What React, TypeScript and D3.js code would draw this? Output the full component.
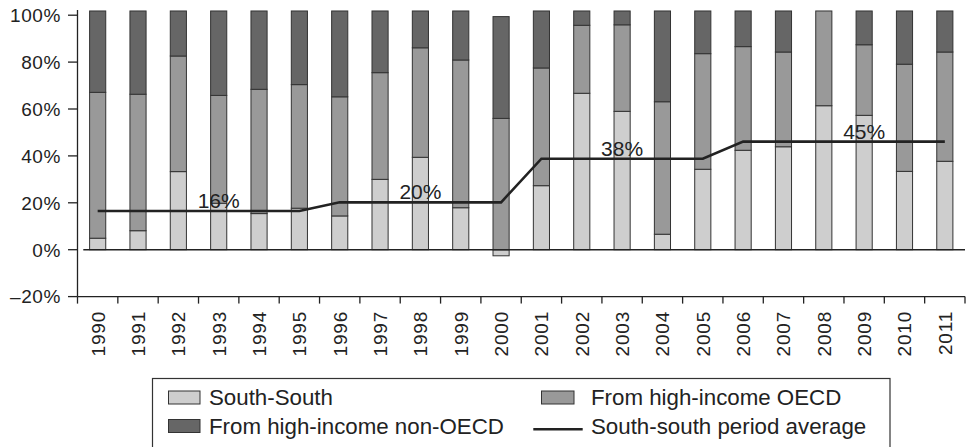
import React from "react";
import * as d3 from "d3";

const years = ["1990","1991","1992","1993","1994","1995","1996","1997","1998","1999","2000","2001","2002","2003","2004","2005","2006","2007","2008","2009","2010","2011"];
const southSouth = [4.9,8.1,33.3,19.8,15.4,17.7,14.4,30.0,39.4,17.9,-2.6,27.3,66.7,59.0,6.6,34.3,42.4,43.9,61.4,57.3,33.4,37.7];
const highIncomeOECD = [62.2,58.2,49.3,46.0,53.0,52.7,50.8,45.5,46.7,63.0,56.0,50.2,29.0,36.9,56.5,49.3,44.2,40.4,40.4,30.1,45.7,46.6];
const highIncomeNonOECD = [34.7,35.5,19.2,36.0,33.4,31.4,36.6,26.3,15.7,20.9,43.4,24.3,6.1,5.9,38.7,18.2,15.2,17.5,0,14.4,22.7,17.5];
const periodAverage = [16.5,16.5,16.5,16.5,16.5,16.5,20.2,20.2,20.2,20.2,20.2,38.8,38.8,38.8,38.8,38.8,46.1,46.1,46.1,46.1,46.1,46.1];
const averageLabels = [{ year: "1993", text: "16%" },{ year: "1998", text: "20%" },{ year: "2003", text: "38%" },{ year: "2009", text: "45%" }];
const yTicks = [-20,0,20,40,60,80,100];
const seriesNames = ["South-South","From high-income OECD","From high-income non-OECD"];
const avgName = "South-south period average";

const W = 967, H = 447;
const colors = ["#cecece", "#999999", "#666666"];
const FONT = "'Liberation Sans', Arial, Helvetica, sans-serif";

export default function App() {
  const x = d3.scaleBand<string>().domain(years).range([77.5, 965]).paddingInner(0.6).paddingOuter(0.3);
  const y = d3.scaleLinear().domain([0, 100]).range([249.7, 15.2]);

  const rows = years.map((yr, i) => ({ year: yr, s0: southSouth[i], s1: highIncomeOECD[i], s2: highIncomeNonOECD[i] }));
  const stack = d3.stack<any>().keys(["s0","s1","s2"]).offset(d3.stackOffsetDiverging);
  const layers = stack(rows);

  const center = (yr: string) => (x(yr) as number) + x.bandwidth() / 2;
  const line = d3.line<number>().x((_, i) => center(years[i])).y((d) => y(d));

  const axisBottomY = y(-20);
  const legendX = 152.5, legendY = 378.5;

  return (
    <svg width={W} height={H} style={{ position: "absolute", left: 0, top: 0, background: "#fff" }} fontFamily={FONT}>
      {/* y axis */}
      <line x1={77.5} x2={77.5} y1={10} y2={axisBottomY} stroke="#222" strokeWidth={1.3} />
      {yTicks.map((t) => (
        <g key={t}>
          <line x1={68} x2={77.5} y1={y(t)} y2={y(t)} stroke="#222" strokeWidth={1.3} />
          <text x={61} y={y(t)} dy="0.36em" textAnchor="end" fontSize={19} fill="#222" letterSpacing={0.6}>
            {t < 0 ? "\u2013" + Math.abs(t) + "%" : t + "%"}
          </text>
        </g>
      ))}
      {/* x axis */}
      <line x1={77.5} x2={965} y1={axisBottomY} y2={axisBottomY} stroke="#222" strokeWidth={1.3} />
      {years.map((yr, i) => {
        const tx = 77.5 + (i + 1) * x.step();
        return <line key={"t" + yr} x1={tx} x2={tx} y1={axisBottomY} y2={axisBottomY + 7} stroke="#222" strokeWidth={1.3} />;
      })}
      <line x1={77.5} x2={77.5} y1={axisBottomY} y2={axisBottomY + 7} stroke="#222" strokeWidth={1.3} />
      {years.map((yr) => (
        <text key={"l" + yr} transform={`translate(${center(yr)},${311}) rotate(-90)`} textAnchor="end" dy="0.36em" fontSize={19} fill="#222" letterSpacing={0.8}>
          {yr}
        </text>
      ))}
      {/* bars */}
      {layers.map((layer, li) => (
        <g key={li}>
          {layer.map((d, i) => {
            const h = Math.abs(y(d[0]) - y(d[1]));
            if (h < 0.01) return null;
            return (
              <rect key={i} x={x(years[i])} y={Math.min(y(d[0]), y(d[1]))} width={x.bandwidth()} height={h}
                fill={colors[li]} stroke="#333" strokeWidth={1} />
            );
          })}
        </g>
      ))}
      {/* zero line */}
      <line x1={83.3} x2={965} y1={y(0)} y2={y(0)} stroke="#222" strokeWidth={1.4} />
      {/* period average */}
      <path d={line(periodAverage) as string} fill="none" stroke="#222" strokeWidth={2.6} />
      {averageLabels.map((l) => (
        <text key={l.text} x={center(l.year)} y={y(periodAverage[years.indexOf(l.year)]) - 3} textAnchor="middle" fontSize={21} fill="#222">
          {l.text}
        </text>
      ))}
      {/* legend */}
      <rect x={legendX} y={legendY} width={890 - legendX} height={100} fill="#fff" stroke="#333" strokeWidth={1.2} />
      {[0, 2].map((si, r) => (
        <g key={si}>
          <rect x={168.5} y={391 + r * 28.5} width={31.5} height={13} fill={colors[si]} stroke="#333" strokeWidth={1} />
          <text x={209} y={404.5 + r * 29} fontSize={22.3} fill="#222">{seriesNames[si]}</text>
        </g>
      ))}
      <rect x={541.5} y={391} width={32.5} height={13} fill={colors[1]} stroke="#333" strokeWidth={1} />
      <text x={591} y={404.5} fontSize={22.3} fill="#222">{seriesNames[1]}</text>
      <line x1={533.3} x2={582.7} y1={429.3} y2={429.3} stroke="#222" strokeWidth={2.4} />
      <text x={591} y={433.5} fontSize={22.3} fill="#222">{avgName}</text>
    </svg>
  );
}
